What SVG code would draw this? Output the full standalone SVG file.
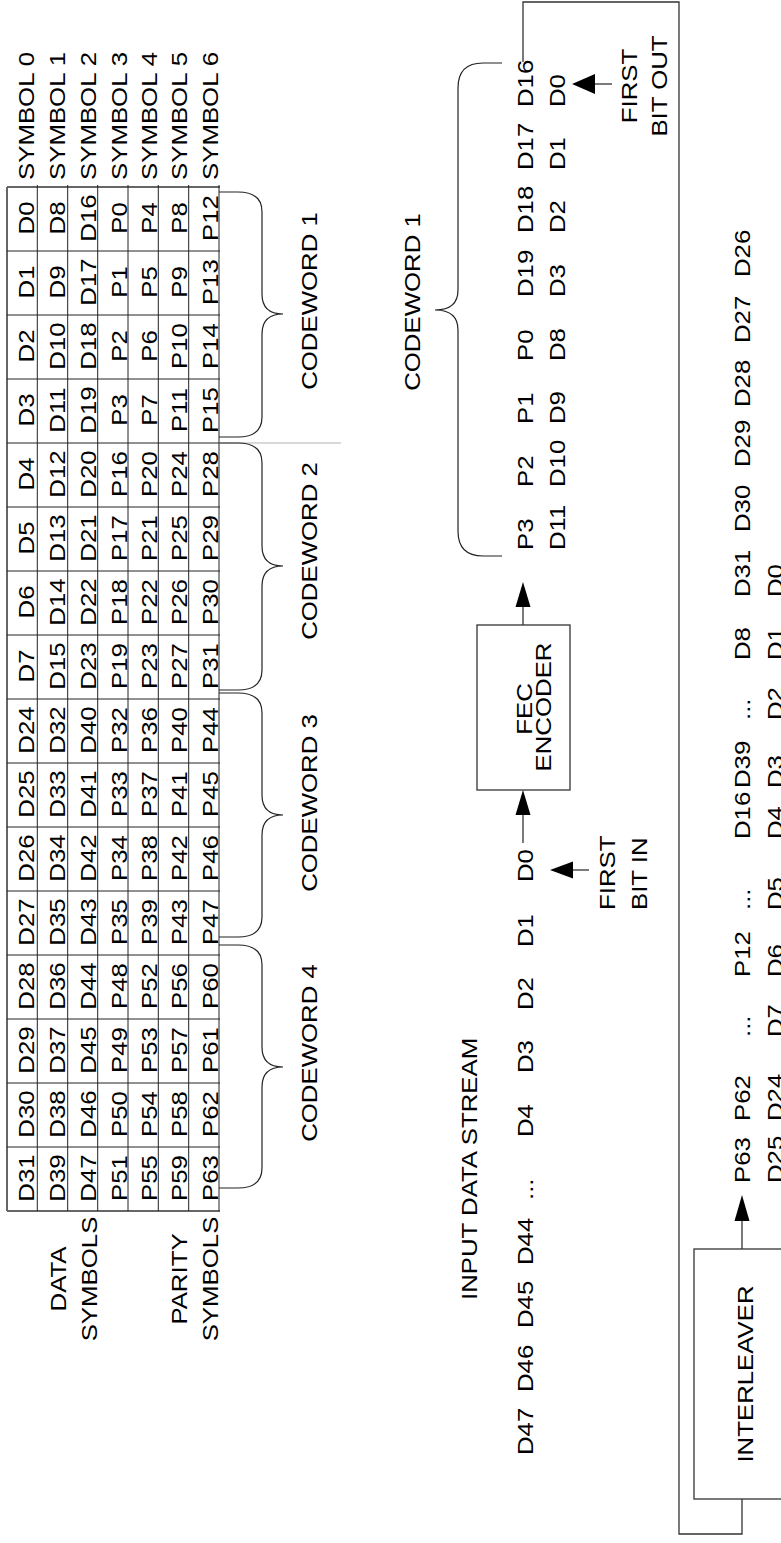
<svg xmlns="http://www.w3.org/2000/svg" width="781" height="1543" viewBox="0 0 781 1543">
<style>
.t{font-family:"Liberation Sans",Arial,sans-serif;font-size:21.5px;fill:#000}
.m{text-anchor:middle}
.g{stroke:#222;stroke-width:1;fill:none}
.o{stroke:#666;stroke-width:2;fill:none}
.br{stroke:#222;stroke-width:1.2;fill:none}
.ln{stroke:#333;stroke-width:1.3;fill:none}
.ah{fill:#000;stroke:none}
.bx{fill:#fff;stroke:#333;stroke-width:1.3}
</style>
<rect width="781" height="1543" fill="#fff"/>
<g id="table">
<path class="o" d="M7,187H220M7,1211H220M7,187V1211"/>
<path class="g" d="M219,185V1211M37.3,185V1211M67.7,185V1211M97.7,185V1211M128,185V1211M158.3,185V1211M188.7,185V1211"/>
<path class="g" d="M7,251H220M7,315H220M7,379H220M7,443H220M7,507H220M7,571H220M7,635H220M7,699H220M7,763H220M7,827H220M7,891H220M7,955H220M7,1019H220M7,1083H220M7,1147H220"/>
<line x1="219" y1="443" x2="341" y2="443" stroke="#ccc" stroke-width="1.5"/>
<g id="symbol-labels">
<text class="t" transform="matrix(0,-1.2,1,0,33.5,180)">SYMBOL 0</text>
<text class="t" transform="matrix(0,-1.2,1,0,65,180)">SYMBOL 1</text>
<text class="t" transform="matrix(0,-1.2,1,0,96,180)">SYMBOL 2</text>
<text class="t" transform="matrix(0,-1.2,1,0,126.5,180)">SYMBOL 3</text>
<text class="t" transform="matrix(0,-1.2,1,0,156.5,180)">SYMBOL 4</text>
<text class="t" transform="matrix(0,-1.2,1,0,187,180)">SYMBOL 5</text>
<text class="t" transform="matrix(0,-1.2,1,0,218,180)">SYMBOL 6</text>
<text class="t m" transform="matrix(0,-1.2,1,0,66,1279)">DATA</text>
<text class="t m" transform="matrix(0,-1.2,1,0,96.5,1279)">SYMBOLS</text>
<text class="t m" transform="matrix(0,-1.2,1,0,186.5,1279)">PARITY</text>
<text class="t m" transform="matrix(0,-1.2,1,0,218,1279)">SYMBOLS</text>
</g>
<g id="row0">
<text class="t m" transform="matrix(0,-1.2,1,0,33.5,218)">D0</text>
<text class="t m" transform="matrix(0,-1.2,1,0,33.5,282)">D1</text>
<text class="t m" transform="matrix(0,-1.2,1,0,33.5,346)">D2</text>
<text class="t m" transform="matrix(0,-1.2,1,0,33.5,410)">D3</text>
<text class="t m" transform="matrix(0,-1.2,1,0,33.5,474)">D4</text>
<text class="t m" transform="matrix(0,-1.2,1,0,33.5,538)">D5</text>
<text class="t m" transform="matrix(0,-1.2,1,0,33.5,602)">D6</text>
<text class="t m" transform="matrix(0,-1.2,1,0,33.5,666)">D7</text>
<text class="t m" transform="matrix(0,-1.2,1,0,33.5,730)">D24</text>
<text class="t m" transform="matrix(0,-1.2,1,0,33.5,794)">D25</text>
<text class="t m" transform="matrix(0,-1.2,1,0,33.5,858)">D26</text>
<text class="t m" transform="matrix(0,-1.2,1,0,33.5,922)">D27</text>
<text class="t m" transform="matrix(0,-1.2,1,0,33.5,986)">D28</text>
<text class="t m" transform="matrix(0,-1.2,1,0,33.5,1050)">D29</text>
<text class="t m" transform="matrix(0,-1.2,1,0,33.5,1114)">D30</text>
<text class="t m" transform="matrix(0,-1.2,1,0,33.5,1178)">D31</text>
</g>
<g id="row1">
<text class="t m" transform="matrix(0,-1.2,1,0,65,218)">D8</text>
<text class="t m" transform="matrix(0,-1.2,1,0,65,282)">D9</text>
<text class="t m" transform="matrix(0,-1.2,1,0,65,346)">D10</text>
<text class="t m" transform="matrix(0,-1.2,1,0,65,410)">D11</text>
<text class="t m" transform="matrix(0,-1.2,1,0,65,474)">D12</text>
<text class="t m" transform="matrix(0,-1.2,1,0,65,538)">D13</text>
<text class="t m" transform="matrix(0,-1.2,1,0,65,602)">D14</text>
<text class="t m" transform="matrix(0,-1.2,1,0,65,666)">D15</text>
<text class="t m" transform="matrix(0,-1.2,1,0,65,730)">D32</text>
<text class="t m" transform="matrix(0,-1.2,1,0,65,794)">D33</text>
<text class="t m" transform="matrix(0,-1.2,1,0,65,858)">D34</text>
<text class="t m" transform="matrix(0,-1.2,1,0,65,922)">D35</text>
<text class="t m" transform="matrix(0,-1.2,1,0,65,986)">D36</text>
<text class="t m" transform="matrix(0,-1.2,1,0,65,1050)">D37</text>
<text class="t m" transform="matrix(0,-1.2,1,0,65,1114)">D38</text>
<text class="t m" transform="matrix(0,-1.2,1,0,65,1178)">D39</text>
</g>
<g id="row2">
<text class="t m" transform="matrix(0,-1.2,1,0,96,218)">D16</text>
<text class="t m" transform="matrix(0,-1.2,1,0,96,282)">D17</text>
<text class="t m" transform="matrix(0,-1.2,1,0,96,346)">D18</text>
<text class="t m" transform="matrix(0,-1.2,1,0,96,410)">D19</text>
<text class="t m" transform="matrix(0,-1.2,1,0,96,474)">D20</text>
<text class="t m" transform="matrix(0,-1.2,1,0,96,538)">D21</text>
<text class="t m" transform="matrix(0,-1.2,1,0,96,602)">D22</text>
<text class="t m" transform="matrix(0,-1.2,1,0,96,666)">D23</text>
<text class="t m" transform="matrix(0,-1.2,1,0,96,730)">D40</text>
<text class="t m" transform="matrix(0,-1.2,1,0,96,794)">D41</text>
<text class="t m" transform="matrix(0,-1.2,1,0,96,858)">D42</text>
<text class="t m" transform="matrix(0,-1.2,1,0,96,922)">D43</text>
<text class="t m" transform="matrix(0,-1.2,1,0,96,986)">D44</text>
<text class="t m" transform="matrix(0,-1.2,1,0,96,1050)">D45</text>
<text class="t m" transform="matrix(0,-1.2,1,0,96,1114)">D46</text>
<text class="t m" transform="matrix(0,-1.2,1,0,96,1178)">D47</text>
</g>
<g id="row3">
<text class="t m" transform="matrix(0,-1.2,1,0,126.5,218)">P0</text>
<text class="t m" transform="matrix(0,-1.2,1,0,126.5,282)">P1</text>
<text class="t m" transform="matrix(0,-1.2,1,0,126.5,346)">P2</text>
<text class="t m" transform="matrix(0,-1.2,1,0,126.5,410)">P3</text>
<text class="t m" transform="matrix(0,-1.2,1,0,126.5,474)">P16</text>
<text class="t m" transform="matrix(0,-1.2,1,0,126.5,538)">P17</text>
<text class="t m" transform="matrix(0,-1.2,1,0,126.5,602)">P18</text>
<text class="t m" transform="matrix(0,-1.2,1,0,126.5,666)">P19</text>
<text class="t m" transform="matrix(0,-1.2,1,0,126.5,730)">P32</text>
<text class="t m" transform="matrix(0,-1.2,1,0,126.5,794)">P33</text>
<text class="t m" transform="matrix(0,-1.2,1,0,126.5,858)">P34</text>
<text class="t m" transform="matrix(0,-1.2,1,0,126.5,922)">P35</text>
<text class="t m" transform="matrix(0,-1.2,1,0,126.5,986)">P48</text>
<text class="t m" transform="matrix(0,-1.2,1,0,126.5,1050)">P49</text>
<text class="t m" transform="matrix(0,-1.2,1,0,126.5,1114)">P50</text>
<text class="t m" transform="matrix(0,-1.2,1,0,126.5,1178)">P51</text>
</g>
<g id="row4">
<text class="t m" transform="matrix(0,-1.2,1,0,156.5,218)">P4</text>
<text class="t m" transform="matrix(0,-1.2,1,0,156.5,282)">P5</text>
<text class="t m" transform="matrix(0,-1.2,1,0,156.5,346)">P6</text>
<text class="t m" transform="matrix(0,-1.2,1,0,156.5,410)">P7</text>
<text class="t m" transform="matrix(0,-1.2,1,0,156.5,474)">P20</text>
<text class="t m" transform="matrix(0,-1.2,1,0,156.5,538)">P21</text>
<text class="t m" transform="matrix(0,-1.2,1,0,156.5,602)">P22</text>
<text class="t m" transform="matrix(0,-1.2,1,0,156.5,666)">P23</text>
<text class="t m" transform="matrix(0,-1.2,1,0,156.5,730)">P36</text>
<text class="t m" transform="matrix(0,-1.2,1,0,156.5,794)">P37</text>
<text class="t m" transform="matrix(0,-1.2,1,0,156.5,858)">P38</text>
<text class="t m" transform="matrix(0,-1.2,1,0,156.5,922)">P39</text>
<text class="t m" transform="matrix(0,-1.2,1,0,156.5,986)">P52</text>
<text class="t m" transform="matrix(0,-1.2,1,0,156.5,1050)">P53</text>
<text class="t m" transform="matrix(0,-1.2,1,0,156.5,1114)">P54</text>
<text class="t m" transform="matrix(0,-1.2,1,0,156.5,1178)">P55</text>
</g>
<g id="row5">
<text class="t m" transform="matrix(0,-1.2,1,0,187,218)">P8</text>
<text class="t m" transform="matrix(0,-1.2,1,0,187,282)">P9</text>
<text class="t m" transform="matrix(0,-1.2,1,0,187,346)">P10</text>
<text class="t m" transform="matrix(0,-1.2,1,0,187,410)">P11</text>
<text class="t m" transform="matrix(0,-1.2,1,0,187,474)">P24</text>
<text class="t m" transform="matrix(0,-1.2,1,0,187,538)">P25</text>
<text class="t m" transform="matrix(0,-1.2,1,0,187,602)">P26</text>
<text class="t m" transform="matrix(0,-1.2,1,0,187,666)">P27</text>
<text class="t m" transform="matrix(0,-1.2,1,0,187,730)">P40</text>
<text class="t m" transform="matrix(0,-1.2,1,0,187,794)">P41</text>
<text class="t m" transform="matrix(0,-1.2,1,0,187,858)">P42</text>
<text class="t m" transform="matrix(0,-1.2,1,0,187,922)">P43</text>
<text class="t m" transform="matrix(0,-1.2,1,0,187,986)">P56</text>
<text class="t m" transform="matrix(0,-1.2,1,0,187,1050)">P57</text>
<text class="t m" transform="matrix(0,-1.2,1,0,187,1114)">P58</text>
<text class="t m" transform="matrix(0,-1.2,1,0,187,1178)">P59</text>
</g>
<g id="row6">
<text class="t m" transform="matrix(0,-1.2,1,0,218,218)">P12</text>
<text class="t m" transform="matrix(0,-1.2,1,0,218,282)">P13</text>
<text class="t m" transform="matrix(0,-1.2,1,0,218,346)">P14</text>
<text class="t m" transform="matrix(0,-1.2,1,0,218,410)">P15</text>
<text class="t m" transform="matrix(0,-1.2,1,0,218,474)">P28</text>
<text class="t m" transform="matrix(0,-1.2,1,0,218,538)">P29</text>
<text class="t m" transform="matrix(0,-1.2,1,0,218,602)">P30</text>
<text class="t m" transform="matrix(0,-1.2,1,0,218,666)">P31</text>
<text class="t m" transform="matrix(0,-1.2,1,0,218,730)">P44</text>
<text class="t m" transform="matrix(0,-1.2,1,0,218,794)">P45</text>
<text class="t m" transform="matrix(0,-1.2,1,0,218,858)">P46</text>
<text class="t m" transform="matrix(0,-1.2,1,0,218,922)">P47</text>
<text class="t m" transform="matrix(0,-1.2,1,0,218,986)">P60</text>
<text class="t m" transform="matrix(0,-1.2,1,0,218,1050)">P61</text>
<text class="t m" transform="matrix(0,-1.2,1,0,218,1114)">P62</text>
<text class="t m" transform="matrix(0,-1.2,1,0,218,1178)">P63</text>
</g>
</g>
<g id="codeword-braces">
<path class="br" d="M219,192H238Q262,192 262,212V294Q262,314 283,314Q262,314 262,334V417Q262,437 238,437H219"/>
<path class="br" d="M219,443H238Q262,443 262,463V546Q262,566 283,566Q262,566 262,586V670Q262,690 238,690H219"/>
<path class="br" d="M219,693H238Q262,693 262,713V795Q262,815 283,815Q262,815 262,835V917Q262,937 238,937H219"/>
<path class="br" d="M219,945H238Q262,945 262,965V1047Q262,1067 283,1067Q262,1067 262,1087V1168Q262,1188 238,1188H219"/>
<text class="t m" transform="matrix(0,-1.2,1,0,317,301)">CODEWORD 1</text>
<text class="t m" transform="matrix(0,-1.2,1,0,317,551)">CODEWORD 2</text>
<text class="t m" transform="matrix(0,-1.2,1,0,317,803)">CODEWORD 3</text>
<text class="t m" transform="matrix(0,-1.2,1,0,317,1053)">CODEWORD 4</text>
</g>
<g id="output-codeword">
<path class="br" d="M502,63H483Q458,63 458,88V290Q458,310 435,310Q458,310 458,330V531Q458,556 483,556H502"/>
<text class="t m" transform="matrix(0,-1.2,1,0,420,302)">CODEWORD 1</text>
<text class="t" transform="matrix(0,-1.2,1,0,533,107)">D16</text>
<text class="t" transform="matrix(0,-1.2,1,0,533,170)">D17</text>
<text class="t" transform="matrix(0,-1.2,1,0,533,233)">D18</text>
<text class="t" transform="matrix(0,-1.2,1,0,533,297)">D19</text>
<text class="t" transform="matrix(0,-1.2,1,0,533,361)">P0</text>
<text class="t" transform="matrix(0,-1.2,1,0,533,424)">P1</text>
<text class="t" transform="matrix(0,-1.2,1,0,533,487)">P2</text>
<text class="t" transform="matrix(0,-1.2,1,0,533,550)">P3</text>
<text class="t" transform="matrix(0,-1.2,1,0,565,107)">D0</text>
<text class="t" transform="matrix(0,-1.2,1,0,565,170)">D1</text>
<text class="t" transform="matrix(0,-1.2,1,0,565,233)">D2</text>
<text class="t" transform="matrix(0,-1.2,1,0,565,297)">D3</text>
<text class="t" transform="matrix(0,-1.2,1,0,565,361)">D8</text>
<text class="t" transform="matrix(0,-1.2,1,0,565,424)">D9</text>
<text class="t" transform="matrix(0,-1.2,1,0,565,487)">D10</text>
<text class="t" transform="matrix(0,-1.2,1,0,565,550)">D11</text>
<text class="t m" transform="matrix(0,-1.2,1,0,637,86)">FIRST</text>
<text class="t m" transform="matrix(0,-1.2,1,0,667,86)">BIT OUT</text>
</g>
<g id="input-stream">
<text class="t" transform="matrix(0,-1.2,1,0,477,1300)">INPUT DATA STREAM</text>
<text class="t" transform="matrix(0,-1.2,1,0,533,882)">D0</text>
<text class="t" transform="matrix(0,-1.2,1,0,533,947)">D1</text>
<text class="t" transform="matrix(0,-1.2,1,0,533,1010)">D2</text>
<text class="t" transform="matrix(0,-1.2,1,0,533,1073)">D3</text>
<text class="t" transform="matrix(0,-1.2,1,0,533,1137)">D4</text>
<text class="t" transform="matrix(0,-1.2,1,0,533,1200)">...</text>
<text class="t" transform="matrix(0,-1.2,1,0,533,1265)">D44</text>
<text class="t" transform="matrix(0,-1.2,1,0,533,1328)">D45</text>
<text class="t" transform="matrix(0,-1.2,1,0,533,1392)">D46</text>
<text class="t" transform="matrix(0,-1.2,1,0,533,1455)">D47</text>
<text class="t" transform="matrix(0,-1.2,1,0,615,910)">FIRST</text>
<text class="t" transform="matrix(0,-1.2,1,0,647,910)">BIT IN</text>
</g>
<g id="fec">
<rect class="bx" x="477" y="625" width="93" height="165"/>
<text class="t m" transform="matrix(0,-1.2,1,0,532,709)">FEC</text>
<text class="t m" transform="matrix(0,-1.2,1,0,551,707)">ENCODER</text>
</g>
<g id="interleaver">
<rect class="bx" x="694" y="1249" width="110" height="250"/>
<text class="t m" transform="matrix(0,-1.2,1,0,753,1374)">INTERLEAVER</text>
</g>
<g id="interleaved-stream">
<text class="t" transform="matrix(0,-1.2,1,0,750,1183)">P63</text>
<text class="t" transform="matrix(0,-1.2,1,0,750,1121)">P62</text>
<text class="t" transform="matrix(0,-1.2,1,0,750,1037)">...</text>
<text class="t" transform="matrix(0,-1.2,1,0,750,977)">P12</text>
<text class="t" transform="matrix(0,-1.2,1,0,750,910)">...</text>
<text class="t" transform="matrix(0,-1.2,1,0,750,839)">D16</text>
<text class="t" transform="matrix(0,-1.2,1,0,750,788)">D39</text>
<text class="t" transform="matrix(0,-1.2,1,0,750,720)">...</text>
<text class="t" transform="matrix(0,-1.2,1,0,750,660)">D8</text>
<text class="t" transform="matrix(0,-1.2,1,0,750,597)">D31</text>
<text class="t" transform="matrix(0,-1.2,1,0,750,532)">D30</text>
<text class="t" transform="matrix(0,-1.2,1,0,750,467)">D29</text>
<text class="t" transform="matrix(0,-1.2,1,0,750,407)">D28</text>
<text class="t" transform="matrix(0,-1.2,1,0,750,343)">D27</text>
<text class="t" transform="matrix(0,-1.2,1,0,750,277)">D26</text>
<text class="t" transform="matrix(0,-1.2,1,0,783,1183)">D25</text>
<text class="t" transform="matrix(0,-1.2,1,0,783,1121)">D24</text>
<text class="t" transform="matrix(0,-1.2,1,0,783,1037)">D7</text>
<text class="t" transform="matrix(0,-1.2,1,0,783,977)">D6</text>
<text class="t" transform="matrix(0,-1.2,1,0,783,910)">D5</text>
<text class="t" transform="matrix(0,-1.2,1,0,783,839)">D4</text>
<text class="t" transform="matrix(0,-1.2,1,0,783,788)">D3</text>
<text class="t" transform="matrix(0,-1.2,1,0,783,720)">D2</text>
<text class="t" transform="matrix(0,-1.2,1,0,783,660)">D1</text>
<text class="t" transform="matrix(0,-1.2,1,0,783,597)">D0</text>
</g>
<g id="connectors">
<path class="ln" d="M523,62V2H679V1534H742V1499"/>
<path class="ln" d="M523,843V813"/>
<polygon class="ah" points="523,790 515.5,815 530.5,815"/>
<path class="ln" d="M523,625V605"/>
<polygon class="ah" points="523,582 515.5,607 530.5,607"/>
<path class="ln" d="M742,1249V1219"/>
<polygon class="ah" points="742,1195 734.5,1221 749.5,1221"/>
<path class="ln" d="M612,84H593"/>
<polygon class="ah" points="572,84 595,74 595,94"/>
<path class="ln" d="M589,870H571"/>
<polygon class="ah" points="550,870 573,861.5 573,878.5"/>
</g>
</svg>
